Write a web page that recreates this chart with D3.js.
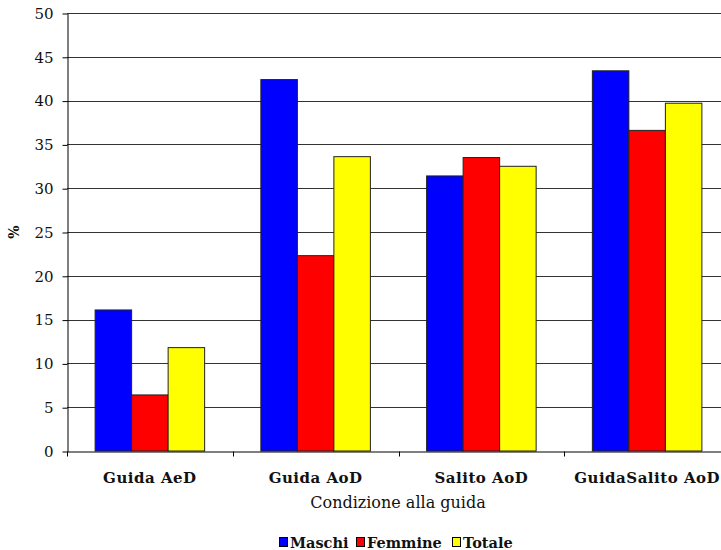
<!DOCTYPE html>
<html><head><meta charset="utf-8">
<script src="https://cdn.jsdelivr.net/npm/d3@7/dist/d3.min.js"></script>
<style>
html,body{margin:0;padding:0;background:#fff;overflow:hidden;}
svg{display:block;}
text{font-family:"DejaVu Serif",serif;fill:#111;}
</style></head>
<body>
<script>
const categories = ["Guida AeD", "Guida AoD", "Salito AoD", "GuidaSalito AoD"];
const seriesNames = ["Maschi", "Femmine", "Totale"];
const maschi = [16.1, 42.4, 31.4, 43.4];
const femmine = [6.4, 22.3, 33.5, 36.6];
const totale = [11.8, 33.6, 32.5, 39.7];
const yTicks = [0, 5, 10, 15, 20, 25, 30, 35, 40, 45, 50];
const colors = ["#0000ff", "#ff0000", "#ffff00"];

const W = 721, H = 550;
const mLeft = 67, mRight = 730, mTop = 13, mBottom = 451;

const svg = d3.select("body").append("svg").attr("width", W).attr("height", H);

const x = d3.scaleBand().domain(categories).range([mLeft, mRight]).padding(0);
const inner = d3.scaleBand().domain(seriesNames).range([0, x.bandwidth()]).paddingInner(0).paddingOuter(0.77);
const y = d3.scaleLinear().domain([0, 50]).range([mBottom, mTop]);

// gridlines
svg.append("g").selectAll("line").data(yTicks.filter(d => d > 0)).join("line")
  .attr("x1", mLeft).attr("x2", mRight)
  .attr("y1", d => Math.round(y(d)) + 0.5).attr("y2", d => Math.round(y(d)) + 0.5)
  .attr("stroke", "#333").attr("stroke-width", 1);

const data = [maschi, femmine, totale];
const g = svg.append("g");
categories.forEach((c, i) => {
  seriesNames.forEach((s, j) => {
    const v = data[j][i];
    g.append("rect")
      .attr("x", x(c) + inner(s))
      .attr("y", y(v))
      .attr("width", inner.bandwidth())
      .attr("height", y(0) - y(v))
      .attr("fill", colors[j])
      .attr("stroke", "#222").attr("stroke-width", 1);
  });
});

// y axis
const yAxis = d3.axisLeft(y).tickValues(yTicks).tickSize(5).tickSizeOuter(0).tickPadding(9);
const ya = svg.append("g").attr("transform", `translate(${mLeft + 0.5},0.5)`).call(yAxis);
ya.attr("font-family", null).attr("font-size", null);
ya.selectAll("text").style("font-size", "15px").style("font-family", "'DejaVu Serif', serif").attr("fill", "#111");
ya.selectAll("line,path").attr("stroke", "#000");

// x axis
const xAxis = d3.axisBottom(x).tickValues([]).tickSizeOuter(0);
const xa = svg.append("g").attr("transform", `translate(0,${mBottom + 0.5})`).call(xAxis);
xa.attr("font-family", null).attr("font-size", null);
xa.select("path").attr("stroke", "#000");
xa.selectAll(".tk").data(categories).join("line").attr("class", "tk")
  .attr("x1", d => Math.round(x(d)) + 0.5).attr("x2", d => Math.round(x(d)) + 0.5)
  .attr("y1", 0).attr("y2", 5).attr("stroke", "#000");
xa.selectAll(".lb").data(categories).join("text").attr("class", "lb")
  .attr("x", d => x(d) + x.bandwidth() / 2).attr("y", 31)
  .attr("text-anchor", "middle").style("font-size", "15px").style("font-weight", "bold")
  .style("letter-spacing", "0.5px")
  .text(d => d);

svg.append("text").attr("x", 398).attr("y", 508).attr("text-anchor", "middle")
  .style("font-size", "16px").text("Condizione alla guida");

svg.append("text").attr("transform", "translate(19,232) rotate(-90)").attr("text-anchor", "middle")
  .style("font-size", "14px").style("font-weight", "bold").text("%");

// legend
const legendX = [279, 356, 452];
const lg = svg.append("g");
seriesNames.forEach((s, j) => {
  lg.append("rect").attr("x", legendX[j] + 0.5).attr("y", 537.5).attr("width", 8).attr("height", 9)
    .attr("fill", colors[j]).attr("stroke", "#000");
  lg.append("text").attr("x", legendX[j] + 11).attr("y", 548)
    .style("font-size", "14.5px").style("font-weight", "bold").text(s);
});
</script>
</body></html>
